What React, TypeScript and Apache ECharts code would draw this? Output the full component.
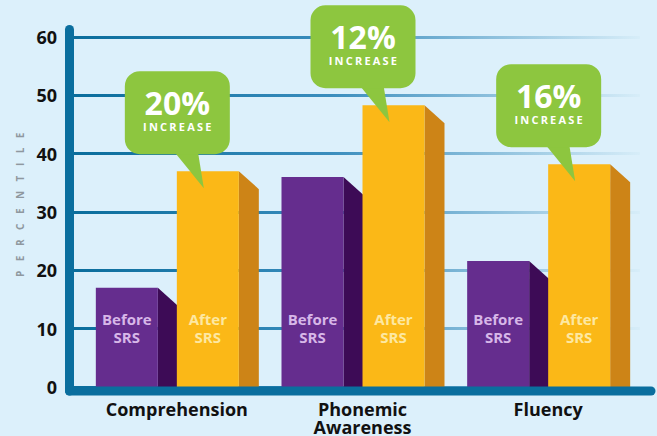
import React, { useEffect, useRef } from "react";
import * as echarts from "echarts";

const categories = ["Comprehension", "Phonemic\nAwareness", "Fluency"];
const beforeValues = [17, 36, 21.6];
const afterValues = [37, 48.3, 38.2];
const increaseLabels = ["20%", "12%", "16%"];
const yMin = 0;
const yMax = 60;
const yInterval = 10;

const FONT = '"Open Sans", "Noto Sans", sans-serif';
const BG = "#dcf0fb";
const AXIS_BLUE = "#0a6e9e";

export default function App() {
  const ref = useRef<HTMLDivElement>(null);

  useEffect(() => {
    document.body.style.margin = "0";
    const el = ref.current!;
    const chart = echarts.init(el, undefined, { renderer: "svg" });

    const frontW = 62;
    const sideW = 20;
    const drop = 18;

    const barGroup = (
      api: any,
      left: number,
      front: string,
      side: string,
      label: string,
      labelColor: string
    ) => {
      const idx = api.value(0);
      const top = api.coord([idx, api.value(1)])[1];
      const base = api.coord([idx, 0])[1];
      const R = left + frontW;
      return {
        children: [
          {
            type: "polygon",
            shape: { points: [[R, top], [R + sideW, top + drop], [R + sideW, base], [R, base]] },
            style: { fill: side },
          },
          {
            type: "rect",
            shape: { x: left, y: top, width: frontW, height: base - top },
            style: { fill: front },
          },
          {
            type: "text",
            style: {
              text: label,
              x: left + frontW / 2,
              y: base - 59,
              align: "center",
              verticalAlign: "middle",
              fontSize: 15,
              fontWeight: "bold",
              fontFamily: FONT,
              lineHeight: 18,
              fill: labelColor,
            },
          },
        ],
        top,
        base,
      };
    };

    const option: any = {
      animation: false,
      backgroundColor: BG,
      grid: [
        { left: 74, right: 17, top: 37, bottom: 49 },
        { left: 84, right: 16, top: 37, bottom: 49 },
      ],
      xAxis: [
        { type: "category", gridIndex: 0, data: categories, show: false },
        {
          type: "category",
          gridIndex: 1,
          data: categories,
          axisLine: { show: false },
          axisTick: { show: false },
          axisLabel: {
            margin: 13,
            fontSize: 18,
            fontWeight: "bold",
            fontFamily: FONT,
            color: "#111",
            lineHeight: 18,
          },
        },
      ],
      yAxis: [
        {
          type: "value",
          gridIndex: 0,
          min: yMin,
          max: yMax,
          interval: yInterval,
          axisLine: { show: false },
          axisTick: { show: false },
          axisLabel: {
            margin: 17,
            fontSize: 18,
            fontWeight: "bold",
            fontFamily: FONT,
            color: "#111",
          },
          splitLine: {
            lineStyle: {
              width: 3,
              color: new echarts.graphic.LinearGradient(
                74,
                0,
                642,
                0,
                [
                  { offset: 0, color: "#0a6d9c" },
                  { offset: 0.45, color: "#3a8dbd" },
                  { offset: 1, color: "#d8eef9" },
                ],
                true
              ),
            },
          },
        },
        { type: "value", gridIndex: 1, min: yMin, max: yMax, interval: yInterval, show: false },
      ],
      graphic: [
        {
          type: "line",
          z: 10,
          shape: { x1: 69.5, y1: 29.5, x2: 69.5, y2: 391 },
          style: { stroke: AXIS_BLUE, lineWidth: 9, lineCap: "round" },
        },
        {
          type: "line",
          z: 10,
          shape: { x1: 69.5, y1: 391, x2: 651, y2: 391 },
          style: { stroke: AXIS_BLUE, lineWidth: 9, lineCap: "round" },
        },
        {
          type: "text",
          x: 20,
          y: 200,
          rotation: Math.PI / 2,
          style: {
            text: "PERCENTILE",
            align: "center",
            verticalAlign: "middle",
            fontSize: 10,
            fontWeight: "bold",
            fontFamily: FONT,
            fill: "#8f989f",
          },
        },
      ],
      series: [
        {
          type: "custom",
          name: "Before SRS",
          xAxisIndex: 1,
          yAxisIndex: 1,
          clip: false,
          data: beforeValues.map((v, i) => [i, v]),
          encode: { x: 0, y: 1 },
          renderItem: (params: any, api: any) => {
            const cx = api.coord([api.value(0), 0])[0];
            const g = barGroup(api, cx - 81, "#652d8e", "#3d0b56", "Before\nSRS", "#d7b7e8");
            return { type: "group", children: g.children };
          },
        },
        {
          type: "custom",
          name: "After SRS",
          xAxisIndex: 1,
          yAxisIndex: 1,
          clip: false,
          data: afterValues.map((v, i) => [i, v]),
          encode: { x: 0, y: 1 },
          renderItem: (params: any, api: any) => {
            const cx = api.coord([api.value(0), 0])[0];
            const L = cx;
            const g = barGroup(api, L, "#fbb817", "#cd8417", "After\nSRS", "#fde8a2");
            const top = g.top;
            const bBottom = top - 17;
            const bH = 83;
            const bTop = bBottom - bH;
            const bLeft = L - 52;
            const bW = 105;
            const green = "#8dc63f";
            const label = increaseLabels[params.dataIndex];
            return {
              type: "group",
              children: [
                ...g.children,
                {
                  type: "polygon",
                  shape: { points: [[L - 3, bBottom - 3], [L + 21, bBottom - 3], [L + 27, top + 17]] },
                  style: { fill: green },
                },
                {
                  type: "rect",
                  shape: { x: bLeft, y: bTop, width: bW, height: bH, r: 15 },
                  style: { fill: green },
                },
                {
                  type: "text",
                  style: {
                    text: label,
                    x: bLeft + bW / 2,
                    y: bTop + 31,
                    align: "center",
                    verticalAlign: "middle",
                    fontSize: 32,
                    lineHeight: 30,
                    fontWeight: "bold",
                    fontFamily: FONT,
                    fill: "#ffffff",
                  },
                },
                {
                  type: "text",
                  style: {
                    text: "INCREASE",
                    x: bLeft + bW / 2 + 1,
                    y: bTop + 55,
                    align: "center",
                    verticalAlign: "middle",
                    fontSize: 11,
                    lineHeight: 11,
                    fontWeight: "bold",
                    fontFamily: FONT,
                    fill: "#ffffff",
                  },
                },
              ],
            };
          },
        },
      ],
    };

    chart.setOption(option);

    const applySpacing = () => {
      const texts = el.querySelectorAll("text");
      texts.forEach((t) => {
        const s = (t.textContent || "").trim();
        if (s === "PERCENTILE") (t as any).style.letterSpacing = "9.5px";
        if (s === "INCREASE") (t as any).style.letterSpacing = "2.2px";
      });
    };
    applySpacing();
    chart.on("finished", applySpacing);
    const tm = setTimeout(applySpacing, 50);

    return () => {
      clearTimeout(tm);
      chart.dispose();
    };
  }, []);

  return <div ref={ref} style={{ width: 657, height: 436 }} />;
}
